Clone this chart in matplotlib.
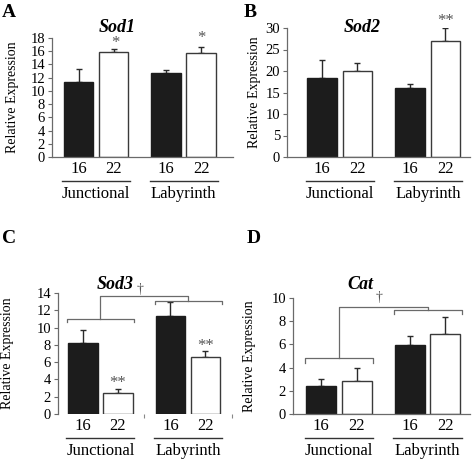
import numpy as np
import matplotlib
matplotlib.use("Agg")
import matplotlib.pyplot as plt
from matplotlib.transforms import blended_transform_factory, offset_copy

plt.rcParams["font.family"] = ["Liberation Serif", "DejaVu Serif"]

# data
ages = ["16", "22", "16", "22"]
groups = ["Junctional", "Labyrinth"]

sod1_mean = [11.3, 15.85, 12.7, 15.7]
sod1_err = [2.0, 0.45, 0.5, 1.0]
sod2_mean = [18.4, 20.0, 16.0, 27.0]
sod2_err = [4.1, 1.8, 0.9, 3.0]
sod3_mean = [8.2, 2.4, 11.3, 6.6]
sod3_err = [1.5, 0.5, 1.7, 0.7]
cat_mean = [2.4, 2.85, 5.95, 6.9]
cat_err = [0.6, 1.1, 0.8, 1.45]

pos = np.array([0, 1, 2.5, 3.5])
width = 0.84
bar_colors = ["#1c1c1c", "white", "#1c1c1c", "white"]
edge_colors = ["#1c1c1c", "#3a3a3a", "#1c1c1c", "#3a3a3a"]
gray = "#6a6a6a"

fig = plt.figure(figsize=(4.74, 4.59), dpi=100)
W, H = 474, 459


def make_ax(left, right, top, bottom):
    return fig.add_axes([left / W, 1 - bottom / H, (right - left) / W, (bottom - top) / H])


def draw_panel(ax, mean, err, ymax, ystep, xlim, title, title_xy, label_x, bottom_spine=True):
    ax.bar(pos, mean, width=width, color=bar_colors, edgecolor=edge_colors, linewidth=1.0, zorder=2)
    ax.errorbar(pos, mean, yerr=[np.zeros(4), err], fmt="none", ecolor="#2a2a2a",
                elinewidth=1.0, capsize=2.5, capthick=1.0, zorder=1)
    ax.set_ylim(0, ymax)
    ax.set_xlim(*xlim)
    ax.set_yticks(np.arange(0, ymax + 0.1, ystep))
    ax.tick_params(axis="y", labelsize=10.5, length=3, width=0.8, color=gray, pad=2)
    ax.set_xticks(pos)
    ax.set_xticklabels(ages, fontsize=12)
    ax.tick_params(axis="x", length=0, pad=3)
    for s in ["top", "right"]:
        ax.spines[s].set_visible(False)
    ax.spines["left"].set_color(gray)
    ax.spines["bottom"].set_color(gray)
    ax.spines["left"].set_linewidth(0.9)
    ax.spines["bottom"].set_linewidth(0.9)
    if not bottom_spine:
        ax.spines["bottom"].set_visible(False)
    ax.set_ylabel("Relative Expression", fontsize=10)
    ax.yaxis.set_label_coords(label_x, 0.5)
    ax.text(title_xy[0], title_xy[1], title, transform=blended_transform_factory(ax.transData, ax.transAxes),
            ha="center", va="center", fontsize=13, fontweight="bold", fontstyle="italic")

    # group underlines and labels
    trans = blended_transform_factory(ax.transData, ax.transAxes)
    line_tr = offset_copy(trans, fig=fig, y=-24, units="dots")
    for i, g in enumerate(groups):
        x0 = pos[2 * i] - width / 2 - 0.05
        x1 = pos[2 * i + 1] + width / 2 + 0.05
        ax.plot([x0, x1], [0, 0], color="#333333", lw=1.0, transform=line_tr, clip_on=False)
        ax.annotate(g, xy=((x0 + x1) / 2, 0), xycoords=trans, xytext=(0, -37), textcoords="offset pixels",
                    ha="center", va="center", fontsize=12)


def stars(ax, x, y, s):
    ax.text(x, y, s, ha="center", va="center", fontsize=12, color="#555555")


def brackets(ax, j_y, l_y, top_y, drop, dag_xy):
    kw = dict(color=gray, lw=0.9, clip_on=False)
    jx0, jx1 = -0.45, 1.45
    lx0, lx1 = 2.05, 3.98
    ax.plot([jx0, jx0, jx1, jx1], [j_y - drop, j_y, j_y, j_y - drop], **kw)
    ax.plot([lx0, lx0, lx1, lx1], [l_y - drop, l_y, l_y, l_y - drop], **kw)
    jc = (jx0 + jx1) / 2
    lc = (lx0 + lx1) / 2
    ax.plot([jc, jc, lc, lc], [j_y, top_y, top_y, l_y], **kw)
    ax.text(dag_xy[0], dag_xy[1], "\u2020", ha="center", va="center", fontsize=10, color="#555555")


# A
axA = make_ax(52, 233, 38, 157)
draw_panel(axA, sod1_mean, sod1_err, 18, 2, (-0.76, 4.41), "Sod1", (1.1, 1.09), -0.182)
stars(axA, 1.05, 17.3, "*")
stars(axA, 3.5, 18.0, "*")

# B
axB = make_ax(287, 470, 28, 157)
draw_panel(axB, sod2_mean, sod2_err, 30, 5, (-1.0, 4.2), "Sod2", (1.13, 1.0), -0.142)
stars(axB, 3.5, 31.6, "**")

# C
axC = make_ax(58, 232, 293, 414)
draw_panel(axC, sod3_mean, sod3_err, 14, 2, (-0.71, 4.26), "Sod3", (0.91, 1.07), -0.253, bottom_spine=False)
axC.set_xticks([1.75, 4.26], minor=True)
axC.tick_params(axis="x", which="minor", length=3, width=0.8, color="#888888")
stars(axC, 1.0, 3.6, "**")
stars(axC, 3.5, 7.9, "**")
brackets(axC, 11.0, 13.1, 13.6, 0.35, (1.63, 14.4))

# D
axD = make_ax(293, 470, 298, 414)
draw_panel(axD, cat_mean, cat_err, 10, 2, (-0.8, 4.2), "Cat", (1.1, 1.12), -0.209)
brackets(axD, 4.83, 9.0, 9.25, 0.4, (1.63, 10.05))

# panel letters
for letter, x, yb in [("A", 2, 17), ("B", 244, 17), ("C", 2, 243), ("D", 247, 243)]:
    fig.text(x / W, 1 - yb / H, letter, fontsize=14, fontweight="bold", va="baseline", ha="left")

fig.savefig("out.png", dpi=100)
